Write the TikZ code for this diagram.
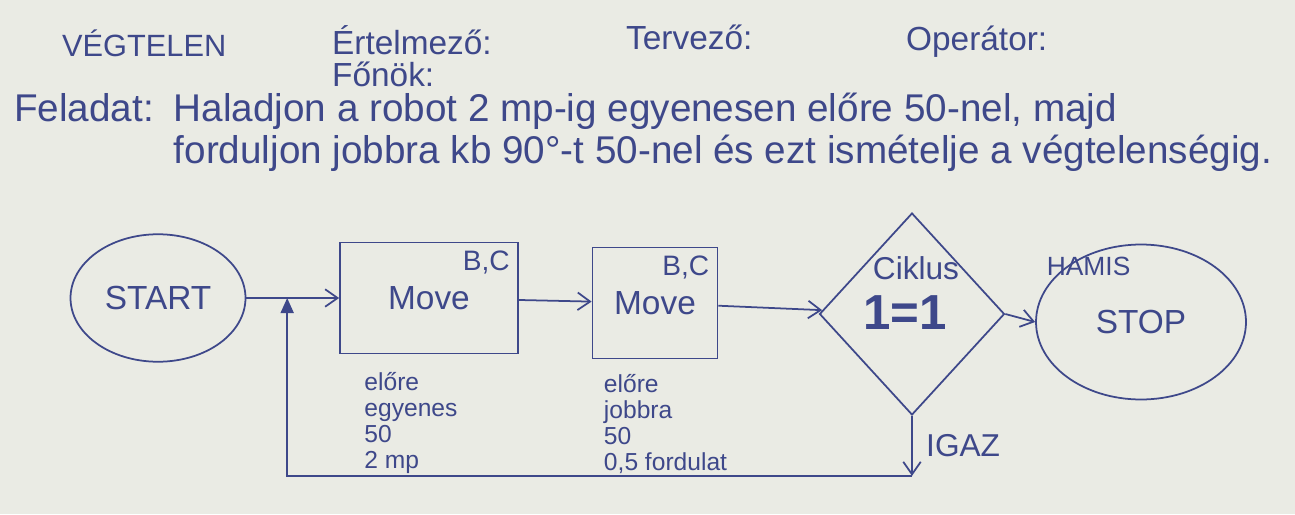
\documentclass[tikz,border=0pt]{standalone}
\usepackage{fontspec}
\setmainfont{Liberation Sans}
\usetikzlibrary{positioning,arrows.meta,shapes.geometric,calc}
\definecolor{ink}{RGB}{62,72,138}
\definecolor{paper}{RGB}{234,235,228}

\begin{document}
\begin{tikzpicture}[
		x=0.02cm, y=-0.02cm,
		>={Straight Barb[length=2.5mm,width=3.5mm]},
		every node/.style={text=ink, font=\fontsize{19}{24}\selectfont},
		flow/.style={draw=ink, line width=1pt, ->},
		terminal/.style={draw=ink, line width=1pt, ellipse, inner sep=0pt},
		movebox/.style={
			draw=ink, line width=1pt, rectangle, inner sep=0pt,
			minimum height=2.22cm,
			label={[anchor=north east, inner sep=5pt, font=\fontsize{16}{18}\selectfont]north east:B,C}
		},
		decision/.style={draw=ink, line width=1pt, diamond, inner sep=0pt,
			minimum width=3.7cm, minimum height=4.04cm},
		note/.style={align=left, inner sep=0pt, font=\fontsize{14}{14.8}\selectfont}
		]
		
		\fill[paper] (0,0) rectangle (1295,514);
		\useasboundingbox (0,0) rectangle (1295,514);
		
		%--------------------------------------------------
		% Header
		%--------------------------------------------------
		
		\node[anchor=west, font=\fontsize{17.5}{20}\selectfont] (title) at (56,43) {VÉGTELEN};
		\node[anchor=west] (interpreter) at (326,40) {Értelmező:};
		\node[anchor=west] (boss) at (326,74) {Főnök:};
		\node[anchor=west] (designer) at (620,37) {Tervező:};
		\node[anchor=west] (operator) at (900,42) {Operátor:};
		
		\node[anchor=base west, font=\fontsize{22}{24}\selectfont] (tasklabel) at (8,121) {Feladat:};
		\node[anchor=north west, align=left, font=\fontsize{22}{24}\selectfont] (tasktext)
		at ([xshift=0.15cm]tasklabel.north east)
		{Haladjon a robot 2 mp-ig egyenesen előre 50-nel, majd\\
			forduljon jobbra kb 90°-t 50-nel és ezt ismételje a végtelenségig.};
		
		%--------------------------------------------------
		% Nodes
		%--------------------------------------------------
		
		\node[terminal, minimum width=3.5cm, minimum height=2.55cm] (start) at (158,298) {START};
		
		\node[movebox, minimum width=3.56cm] (move1) at (429,298) {Move};
		
		\node[movebox, minimum width=2.5cm] (move2) at (655,303) {Move};
		
		\node[decision] (cond) at (912,314) {};
		\node[font=\fontsize{18}{20}\selectfont] (condname) at (916,268) {Ciklus};
		\node[font=\bfseries\fontsize{28}{30}\selectfont] (condexpr) at (905,313) {1=1};
		
		\node[terminal, minimum width=4.2cm, minimum height=3.1cm] (stop) at (1141,322) {STOP};
		
		\node[note, below right=0.36cm and 0.5cm of move1.south west] (move1note)
		{előre\\egyenes\\50\\2 mp};
		
		\node[note, below right=0.3cm and 0.24cm of move2.south west] (move2note)
		{előre\\jobbra\\50\\0,5 fordulat};
		
		%--------------------------------------------------
		% Flow
		%--------------------------------------------------
		
		\draw[flow] (start) -- (move1);
		
		\draw[flow] (move1) -- (move2);
		
		\draw[flow] (move2) -- (cond);
		
		\draw[flow] (cond.east) -- (stop.west)
		node[pos=1, anchor=south west, xshift=0.1cm, yshift=0.8cm,
		font=\fontsize{15}{18}\selectfont] {HAMIS};
		
		%--------------------------------------------------
		% Loop back
		%--------------------------------------------------
		
		\coordinate (merge) at ($(start.east)!0.44!(move1.west)$);
		\coordinate (ret) at ([yshift=-1.2cm]cond.south);
		
		\draw[flow] (cond.south) -- (ret)
		node[midway, right=0.15cm, font=\fontsize{18}{20}\selectfont] {IGAZ};
		
		\draw[draw=ink, line width=1pt, -{Triangle[length=3mm,width=2.6mm]}]
		(ret) -| (merge);
		
	\end{tikzpicture}
\end{document}
